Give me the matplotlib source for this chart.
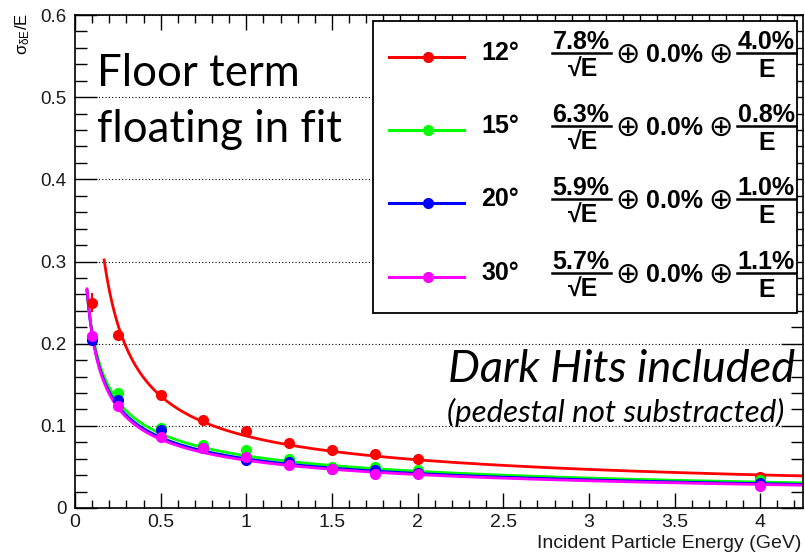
import numpy as np
import matplotlib.pyplot as plt
from matplotlib.lines import Line2D
from matplotlib.patches import Rectangle

# -----------------------------
# Data
# -----------------------------

energy = [0.1, 0.25, 0.5, 0.75, 1.0, 1.25, 1.5, 1.75, 2.0, 4.0]

res_12 = [0.250, 0.210, 0.137, 0.107, 0.094, 0.079, 0.070, 0.066, 0.060, 0.038]
res_15 = [0.207, 0.140, 0.097, 0.077, 0.071, 0.060, 0.050, 0.050, 0.046, 0.034]
res_20 = [0.205, 0.131, 0.095, 0.073, 0.058, 0.056, 0.048, 0.046, 0.043, 0.031]
res_30 = [0.209, 0.124, 0.086, 0.073, 0.062, 0.052, 0.047, 0.041, 0.041, 0.027]

err_12 = [0.012, 0.006, 0.004, 0.003, 0.003, 0.003, 0.003, 0.003, 0.003, 0.004]
err_15 = [0.004, 0.004, 0.003, 0.003, 0.003, 0.003, 0.002, 0.003, 0.002, 0.003]
err_20 = [0.004, 0.004, 0.003, 0.002, 0.002, 0.002, 0.002, 0.002, 0.002, 0.002]
err_30 = [0.004, 0.003, 0.003, 0.002, 0.002, 0.002, 0.002, 0.002, 0.002, 0.002]

angles = ['12°', '15°', '20°', '30°']
colors = ['#ff0000', '#00ff00', '#0000ff', '#ff00ff']

# fit parameters as printed in the legend (percent)
stoch = [7.8, 6.3, 5.9, 5.7]
const = [0.0, 0.0, 0.0, 0.0]
noise = [4.0, 0.8, 1.0, 1.1]
fit_start = [0.17, 0.07, 0.07, 0.07]

series = [res_12, res_15, res_20, res_30]
errors = [err_12, err_15, err_20, err_30]

X_MAX = 4.25
W, H = 805, 554


def fx(x):
    return x / W


def fy(y):
    return 1 - y / H


def resolution(e, a, c, b):
    return np.sqrt((a / 100 / np.sqrt(e)) ** 2 + (c / 100) ** 2 + (b / 100 / e) ** 2)


# -----------------------------
# Figure
# -----------------------------

fig = plt.figure(figsize=(W / 100, H / 100), dpi=100)
ax = fig.add_axes([fx(75), 1 - 508 / H, 728 / W, 493 / H])

for i in range(4):
    e = np.linspace(fit_start[i], X_MAX, 400)
    ax.plot(e, resolution(e, stoch[i], const[i], noise[i]), color=colors[i], lw=2, zorder=2)
    ax.errorbar(energy, series[i], yerr=errors[i], fmt='o', color=colors[i],
                ms=7, elinewidth=1.5, capsize=0, zorder=3)

ax.set_xlim(0, X_MAX)
ax.set_ylim(0, 0.6)
ax.set_xticks(np.arange(0, 4.01, 0.5))
ax.set_xticklabels(['0', '0.5', '1', '1.5', '2', '2.5', '3', '3.5', '4'])
ax.set_xticks(np.arange(0, 4.25, 0.1), minor=True)
ax.set_yticks(np.arange(0, 0.61, 0.1))
ax.set_yticklabels(['0', '0.1', '0.2', '0.3', '0.4', '0.5', '0.6'])
ax.set_yticks(np.arange(0, 0.601, 0.02), minor=True)

ax.tick_params(axis='both', which='both', direction='in', top=True, right=True, width=1)
ax.tick_params(axis='x', which='major', length=11, labelsize=14, pad=4)
ax.tick_params(axis='x', which='minor', length=5.5)
ax.tick_params(axis='y', which='major', length=16, labelsize=13.5, pad=6)
ax.tick_params(axis='y', which='minor', length=8.5)
for lab in ax.get_xticklabels() + ax.get_yticklabels():
    lab.set_family('Liberation Sans')
    lab.set_color('#1a1a1a')
for s in ax.spines.values():
    s.set_linewidth(1.2)

ax.yaxis.grid(True, color='black', linestyle=(0, (1, 2)), lw=0.8)

fig.text(fx(801), fy(548), 'Incident Particle Energy (GeV)', ha='right', va='baseline',
         fontsize=14, family='Liberation Sans', color='#1a1a1a')
fig.text(fx(23), fy(13), r'$\mathregular{\sigma_{\delta E}}$/E', rotation=90, ha='center',
         va='top', fontsize=12, family='Liberation Sans')

# -----------------------------
# Legend box
# -----------------------------

fig.add_artist(Rectangle((fx(373), fy(313)), (797 - 373) / W, (313 - 21) / H,
                         transform=fig.transFigure, facecolor='white',
                         edgecolor='black', lw=1.3, zorder=4))

bold = dict(family=['Liberation Sans', 'DejaVu Sans'], weight='bold', fontsize=18, zorder=6)
plain = dict(family='DejaVu Sans', fontsize=21, zorder=6)
row_y = [57, 130, 203, 277]

for i in range(4):
    yc = row_y[i]
    fig.add_artist(Line2D([fx(389), fx(464)], [fy(yc), fy(yc)], color=colors[i], lw=2.2,
                          transform=fig.transFigure, zorder=6))
    fig.add_artist(Line2D([fx(428)], [fy(yc)], color=colors[i], marker='o', ms=7,
                          transform=fig.transFigure, zorder=6))
    fig.text(fx(481), fy(yc - 4), angles[i], ha='left', va='center', **bold)
    # stochastic term fraction
    fig.text(fx(581), fy(yc - 15), f'{stoch[i]:.1f}%', ha='center', va='center', **bold)
    fig.add_artist(Line2D([fx(552), fx(611)], [fy(yc - 4), fy(yc - 4)], color='black', lw=1.8,
                          transform=fig.transFigure, zorder=6))
    fig.text(fx(583), fy(yc + 13), '√E', ha='center', va='center', **bold)
    # constant term
    fig.text(fx(628), fy(yc - 2), '⊕', ha='center', va='center', **plain)
    fig.text(fx(674), fy(yc - 2), f'{const[i]:.1f}%', ha='center', va='center', **bold)
    fig.text(fx(721), fy(yc - 2), '⊕', ha='center', va='center', **plain)
    # noise term fraction
    fig.text(fx(766), fy(yc - 15), f'{noise[i]:.1f}%', ha='center', va='center', **bold)
    fig.add_artist(Line2D([fx(737), fx(796)], [fy(yc - 4), fy(yc - 4)], color='black', lw=1.8,
                          transform=fig.transFigure, zorder=6))
    fig.text(fx(767), fy(yc + 13), 'E', ha='center', va='center', **bold)

# -----------------------------
# Annotations
# -----------------------------

fig.text(fx(97), fy(86), 'Floor term', ha='left', va='baseline', fontsize=31.5, family='Lato')
fig.text(fx(97), fy(142), 'floating in fit', ha='left', va='baseline', fontsize=31.5,
         family='Lato')
fig.text(fx(448), fy(382), 'Dark Hits included', ha='left', va='baseline', fontsize=32.5,
         family='Lato', style='italic')
fig.text(fx(447), fy(422), '(pedestal not substracted)', ha='left', va='baseline', fontsize=22.5,
         family='Lato', style='italic')

fig.savefig('out.png', dpi=100)
